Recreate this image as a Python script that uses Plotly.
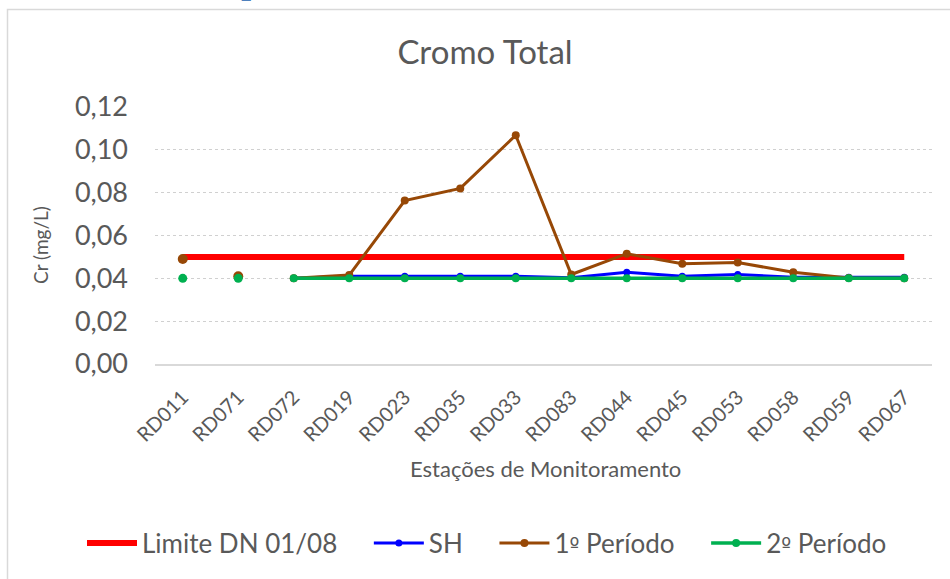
import plotly.graph_objects as go

stations = ["RD011", "RD071", "RD072", "RD019", "RD023", "RD035", "RD033",
            "RD083", "RD044", "RD045", "RD053", "RD058", "RD059", "RD067"]

limite = [0.05] * 14
sh = [None, None, 0.040, 0.041, 0.041, 0.041, 0.041, 0.0403, 0.0428, 0.041,
      0.0418, 0.0405, 0.0405, 0.0405]
p1_isolated = [0.049, 0.041] + [None] * 12
p1_line = [None, None, 0.040, 0.0415, 0.0763, 0.082, 0.1068, 0.0418, 0.0515,
           0.0468, 0.0474, 0.0428, 0.0402, 0.040]
p2_isolated = [0.040, 0.040] + [None] * 12
p2_line = [None, None, 0.040, 0.040, 0.040, 0.040, 0.040, 0.040, 0.040,
           0.040, 0.040, 0.040, 0.040, 0.040]

FONT = "Lato"
GREY = "#595959"
RED = "#ff0000"
BLUE = "#0000ff"
BROWN = "#974806"
GREEN = "#00b050"
ORD = "<span style='font-family:DejaVu Sans;font-size:21px'>º</span>"
GAP = "\u00a0" * 4

L, R, T, B = 155, 18, 107, 215
W, H = 950, 579
PW, PH = W - L - R, H - T - B


def px_x(px):
    return (px - L) / PW


def px_y(py):
    return (H - B - py) / PH


fig = go.Figure()
fig.add_trace(go.Scatter(x=stations, y=limite, mode="lines", name="Limite DN 01/08" + GAP,
                         line=dict(color=RED, width=6)))
fig.add_trace(go.Scatter(x=stations, y=sh, mode="lines+markers", name="SH" + GAP,
                         line=dict(color=BLUE, width=3), marker=dict(size=7, color=BLUE)))
fig.add_trace(go.Scatter(x=stations, y=p1_line, mode="lines+markers",
                         name="1" + ORD + " Período" + GAP,
                         line=dict(color=BROWN, width=3), marker=dict(size=8, color=BROWN),
                         legendgroup="p1"))
fig.add_trace(go.Scatter(x=stations, y=p1_isolated, mode="markers", name="1º Período",
                         marker=dict(size=10, color=BROWN), legendgroup="p1", showlegend=False))
fig.add_trace(go.Scatter(x=stations, y=p2_line, mode="lines+markers",
                         name="2" + ORD + " Período",
                         line=dict(color=GREEN, width=3.5), marker=dict(size=8, color=GREEN),
                         legendgroup="p2"))
fig.add_trace(go.Scatter(x=stations, y=p2_isolated, mode="markers", name="2º Período",
                         marker=dict(size=9, color=GREEN), legendgroup="p2", showlegend=False))

fig.update_layout(
    width=W, height=H,
    margin=dict(l=L, r=R, t=T, b=B, autoexpand=False),
    paper_bgcolor="white", plot_bgcolor="white",
    separators=",.",
    font=dict(family=FONT, color=GREY),
    title=dict(text="Cromo Total", font=dict(family=FONT, size=33, color=GREY),
               x=485 / W, xanchor="center", xref="container",
               y=1 - 52 / H, yanchor="middle", yref="container"),
    xaxis=dict(type="category", range=[-0.5, 13.5], showgrid=False,
               showline=True, linecolor="#d9d9d9", linewidth=1.5,
               ticks="", tickangle=-45, tickfont=dict(family=FONT, size=20, color=GREY),
               ticklabelstandoff=12, zeroline=False),
    yaxis=dict(range=[0, 0.12], dtick=0.02, tick0=0, tickformat=".2f",
               showgrid=True, gridcolor="#d0d0d0", griddash="dot", gridwidth=1,
               zeroline=False, showline=False, ticks="",
               tickfont=dict(family=FONT, size=27, color=GREY), ticklabelstandoff=26),
    legend=dict(orientation="h", xref="paper", x=px_x(82), xanchor="left",
                yref="paper", y=px_y(543), yanchor="middle",
                font=dict(family=FONT, size=26, color=GREY),
                bgcolor="rgba(0,0,0,0)", itemwidth=50, tracegroupgap=0),
    showlegend=True,
)

fig.add_annotation(text="Estações de Monitoramento", xref="paper", yref="paper",
                   x=px_x(545), y=px_y(468), xanchor="center", yanchor="middle",
                   showarrow=False, font=dict(family=FONT, size=22, color=GREY))
fig.add_annotation(text="Cr (mg/L)", xref="paper", yref="paper",
                   x=px_x(40), y=px_y(245), xanchor="center", yanchor="middle",
                   textangle=-90, showarrow=False, font=dict(family=FONT, size=19, color=GREY))
fig.add_annotation(text="<b>p</b>", xref="paper", yref="paper",
                   x=px_x(251), y=px_y(4), xanchor="center", yanchor="bottom",
                   showarrow=False, font=dict(family="DejaVu Serif", size=28, color="#4f81bd"))

fig.add_shape(type="rect", xref="paper", yref="paper",
              x0=px_x(7.5), x1=px_x(980), y0=px_y(620), y1=px_y(9.5),
              line=dict(color="#d9d9d9", width=1.5), fillcolor="rgba(0,0,0,0)", layer="below")

fig.write_html("out.html", config={"displayModeBar": False},
               post_script="document.body.style.margin='0px';")
